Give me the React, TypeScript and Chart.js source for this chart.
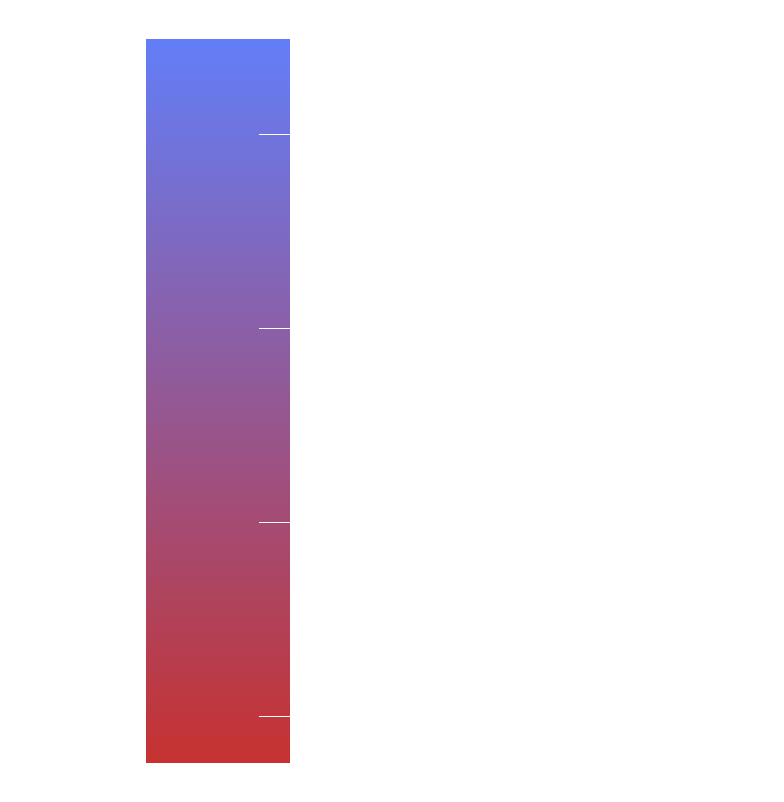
import React, { useEffect, useRef } from "react";
import { Chart, registerables } from "chart.js";

Chart.register(...registerables);

// Data
const categories = ["scale"];
const rangeMin = 3.79;
const rangeMax = 22.45;
const barRange: [number, number][] = [[rangeMin, rangeMax]];
const tickValues = [5, 10, 15, 20];
const colorLow = "rgb(198, 50, 48)";
const colorHigh = "rgb(98, 126, 248)";

const innerTicks = {
  id: "innerTicks",
  afterDatasetsDraw(chart: any) {
    const { ctx, chartArea, scales } = chart;
    const y = scales.y;
    ctx.save();
    ctx.strokeStyle = "#ffffff";
    ctx.lineWidth = 1;
    for (const v of tickValues) {
      const py = Math.round(y.getPixelForValue(v)) + 0.5;
      ctx.beginPath();
      ctx.moveTo(chartArea.right - 31, py);
      ctx.lineTo(chartArea.right, py);
      ctx.stroke();
    }
    ctx.restore();
  },
};

export default function App() {
  const ref = useRef<HTMLCanvasElement | null>(null);
  useEffect(() => {
    if (!ref.current) return;
    const chart = new Chart(ref.current, {
      type: "bar",
      data: {
        labels: categories,
        datasets: [
          {
            data: barRange as any,
            backgroundColor: (c: any) => {
              const area = c.chart.chartArea;
              if (!area) return colorHigh;
              const g = c.chart.ctx.createLinearGradient(0, area.bottom, 0, area.top);
              g.addColorStop(0, colorLow);
              g.addColorStop(1, colorHigh);
              return g;
            },
            borderWidth: 0,
            barPercentage: 1,
            categoryPercentage: 1,
          },
        ],
      },
      options: {
        animation: false,
        responsive: true,
        maintainAspectRatio: false,
        layout: { padding: { left: 138, right: 486, top: 31, bottom: 31 } },
        plugins: { legend: { display: false }, tooltip: { enabled: false } },
        scales: {
          x: { display: false, offset: true },
          y: {
            display: false,
            min: rangeMin,
            max: rangeMax,
            afterBuildTicks: (s: any) => {
              s.ticks = tickValues.map((v) => ({ value: v }));
            },
          },
        },
      },
      plugins: [innerTicks],
    });
    return () => chart.destroy();
  }, []);
  return (
    <div style={{ width: 768, height: 786, position: "relative" }}>
      <canvas ref={ref} />
    </div>
  );
}
